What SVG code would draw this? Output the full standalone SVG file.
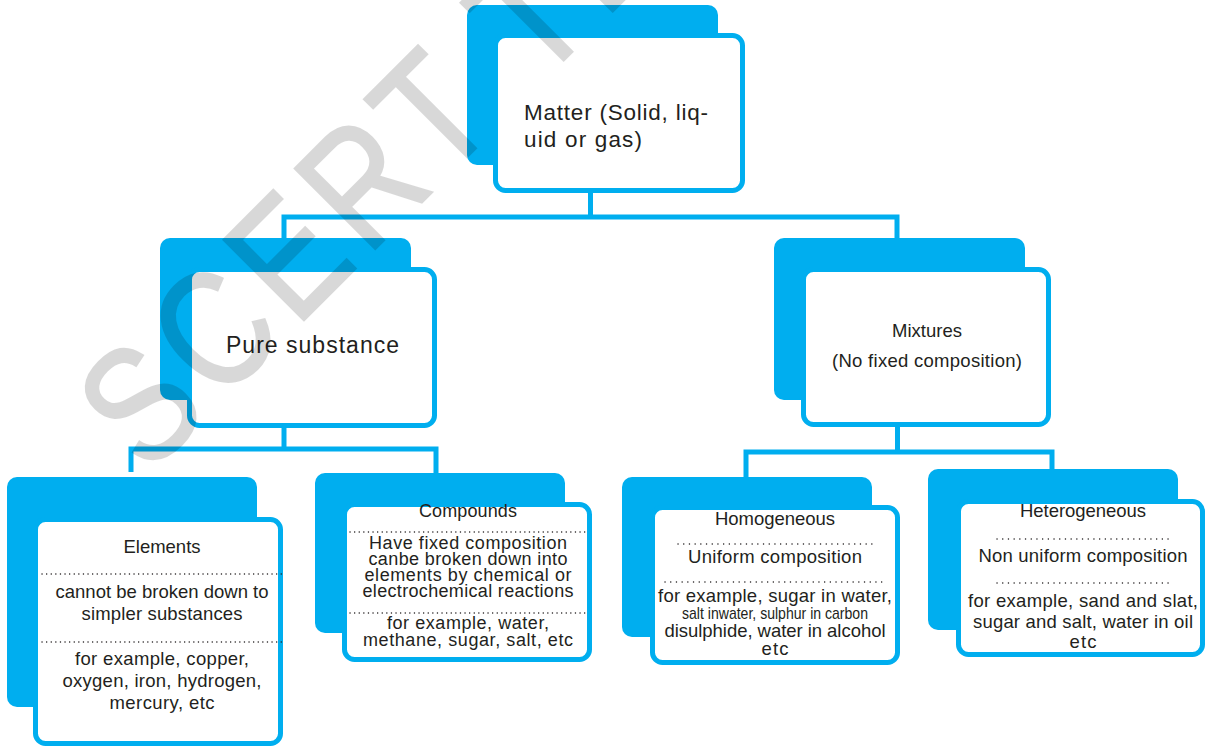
<svg xmlns="http://www.w3.org/2000/svg" width="1217" height="746" viewBox="0 0 1217 746">
  <style>
    .back { fill: #00aeef; }
    .front { fill: #ffffff; stroke: #00aeef; stroke-width: 5; }
    .wire { fill: none; stroke: #00aeef; stroke-width: 5; stroke-linejoin: miter; }
    .t { font-family: "Liberation Sans", Arial, sans-serif; fill: #231f20; text-anchor: middle; }
    .big { font-size: 22.5px; }
    .mid { font-size: 18.5px; }
    .sm { font-size: 18px; }
    .dots { fill: none; stroke: #231f20; stroke-width: 1.4; stroke-linecap: round; stroke-dasharray: 0.1 4.5; }
    .dots2 { fill: none; stroke: #231f20; stroke-width: 1.4; stroke-linecap: round; stroke-dasharray: 0.1 5.6; }
    .mark { font-family: "Liberation Sans", Arial, sans-serif; font-size: 165px; letter-spacing: 13px; fill: #000000; stroke: #000000; stroke-width: 2.5; }
  </style>

  <!-- tree connectors -->
  <g id="connectors">
    <path class="wire" d="M590.5,193 V217"/>
    <polyline class="wire" points="284,238 284,217 897,217 897,238"/>
    <path class="wire" d="M284,428 V449"/>
    <polyline class="wire" points="131,472 131,449 436,449 436,473"/>
    <path class="wire" d="M897.5,427 V452"/>
    <polyline class="wire" points="746,477 746,452 1052,452 1052,469"/>
  </g>

  <!-- root -->
  <g id="matter">
    <rect class="back" x="467" y="5" width="251" height="160" rx="10"/>
    <rect class="front" x="495.5" y="35.5" width="247" height="155" rx="10"/>
    <text class="t big" x="524" y="120" style="text-anchor:start" textLength="184" lengthAdjust="spacing">Matter (Solid, liq-</text>
    <text class="t big" x="524" y="147" style="text-anchor:start" textLength="118" lengthAdjust="spacing">uid or gas)</text>
  </g>

  <g id="pure-substance">
    <rect class="back" x="160" y="238" width="251" height="162" rx="10"/>
    <rect class="front" x="189.5" y="269.5" width="245" height="156" rx="10"/>
    <text class="t" x="312.5" y="353" style="font-size:23px" textLength="173" lengthAdjust="spacing">Pure substance</text>
  </g>

  <g id="mixtures">
    <rect class="back" x="774" y="238" width="251" height="162" rx="10"/>
    <rect class="front" x="803.5" y="269.5" width="245" height="155" rx="10"/>
    <text class="t mid" x="927" y="337" textLength="70" lengthAdjust="spacing">Mixtures</text>
    <text class="t mid" x="927" y="367" textLength="190" lengthAdjust="spacing">(No fixed composition)</text>
  </g>

  <g id="elements">
    <rect class="back" x="7" y="477" width="250" height="230" rx="10"/>
    <rect class="front" x="35.5" y="519.5" width="245" height="224" rx="10"/>
    <text class="t mid" x="162" y="553" textLength="77" lengthAdjust="spacing">Elements</text>
    <line class="dots" x1="42" y1="574" x2="282" y2="574"/>
    <text class="t mid" x="162" y="598" textLength="213" lengthAdjust="spacing">cannot be broken down to</text>
    <text class="t mid" x="162" y="620" textLength="161" lengthAdjust="spacing">simpler substances</text>
    <line class="dots" x1="42" y1="642" x2="282" y2="642"/>
    <text class="t mid" x="162" y="665" textLength="174" lengthAdjust="spacing">for example, copper,</text>
    <text class="t mid" x="162" y="687" textLength="199" lengthAdjust="spacing">oxygen, iron, hydrogen,</text>
    <text class="t mid" x="162" y="709" textLength="105" lengthAdjust="spacing">mercury, etc</text>
  </g>

  <g id="compounds">
    <rect class="back" x="315" y="473" width="250" height="160" rx="10"/>
    <rect class="front" x="344.5" y="504.5" width="245" height="155" rx="10"/>
    <text class="t sm" x="468" y="517" textLength="98" lengthAdjust="spacing">Compounds</text>
    <line class="dots" x1="350" y1="532" x2="587" y2="532"/>
    <text class="t sm" x="468" y="549" textLength="198" lengthAdjust="spacing">Have fixed composition</text>
    <text class="t sm" x="468" y="565" textLength="199" lengthAdjust="spacing">canbe broken down into</text>
    <text class="t sm" x="468" y="581" textLength="207" lengthAdjust="spacing">elements by chemical or</text>
    <text class="t sm" x="468" y="597" textLength="211" lengthAdjust="spacing">electrochemical reactions</text>
    <line class="dots" x1="350" y1="613" x2="587" y2="613"/>
    <text class="t sm" x="468" y="629" textLength="162" lengthAdjust="spacing">for example, water,</text>
    <text class="t sm" x="468" y="646" textLength="210" lengthAdjust="spacing">methane, sugar, salt, etc</text>
  </g>

  <g id="homogeneous">
    <rect class="back" x="622" y="477" width="250" height="160" rx="10"/>
    <rect class="front" x="652.5" y="507.5" width="245" height="155" rx="10"/>
    <text class="t mid" x="775" y="525" textLength="120" lengthAdjust="spacing">Homogeneous</text>
    <line class="dots2" x1="678" y1="544" x2="873" y2="544"/>
    <text class="t mid" x="775" y="563" textLength="174" lengthAdjust="spacing">Uniform composition</text>
    <line class="dots2" x1="665" y1="582" x2="885" y2="582"/>
    <text class="t mid" x="775" y="602" textLength="234" lengthAdjust="spacing">for example, sugar in water,</text>
    <text class="t" x="775" y="619" style="font-size:17px" textLength="186" lengthAdjust="spacingAndGlyphs">salt inwater, sulphur in carbon</text>
    <text class="t mid" x="775" y="637" textLength="221" lengthAdjust="spacing">disulphide, water in alcohol</text>
    <text class="t mid" x="775" y="655" textLength="27" lengthAdjust="spacing">etc</text>
  </g>

  <g id="heterogeneous">
    <rect class="back" x="928" y="469" width="250" height="161" rx="10"/>
    <rect class="front" x="958.5" y="501.5" width="244" height="153" rx="10"/>
    <text class="t mid" x="1083" y="517" textLength="126" lengthAdjust="spacing">Heterogeneous</text>
    <line class="dots2" x1="997" y1="539" x2="1170" y2="539"/>
    <text class="t mid" x="1083" y="562" textLength="209" lengthAdjust="spacing">Non uniform composition</text>
    <line class="dots2" x1="997" y1="583" x2="1170" y2="583"/>
    <text class="t mid" x="1083" y="607" textLength="230" lengthAdjust="spacing">for example, sand and slat,</text>
    <text class="t mid" x="1083" y="628" textLength="220" lengthAdjust="spacing">sugar and salt, water in oil</text>
    <text class="t mid" x="1083" y="648" textLength="27" lengthAdjust="spacing">etc</text>
  </g>

  <!-- diagonal watermark over the whole chart -->
  <g opacity="0.15">
    <text class="mark" x="0" y="0" transform="translate(148 476) rotate(-45) scale(0.82 1)">SCERT TE</text>
  </g>
</svg>
